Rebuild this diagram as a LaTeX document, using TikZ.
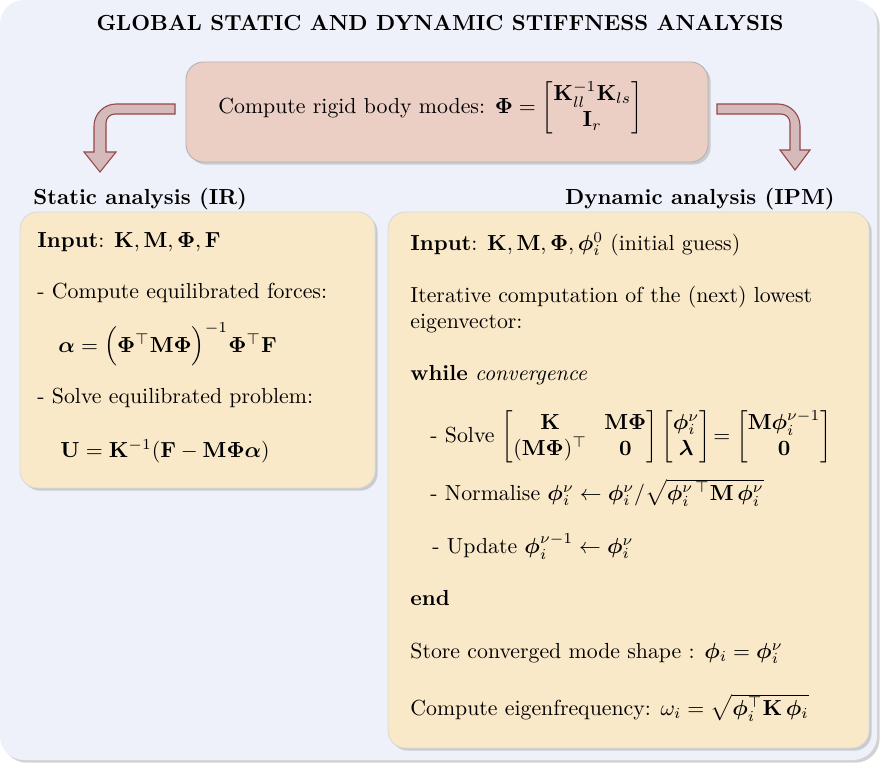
\documentclass[tikz,border=0pt]{standalone}
\usepackage{amsmath,bm}
\usetikzlibrary{shadows,fit}
\definecolor{bgcol}{RGB}{238,241,250}
\definecolor{topcol}{RGB}{235,206,196}
\definecolor{arrfill}{RGB}{212,186,186}
\definecolor{arrdraw}{RGB}{150,72,72}
\definecolor{boxcol}{RGB}{250,233,201}
\tikzset{
  bgbox/.style={fill=bgcol, rounded corners=11pt, drop shadow={shadow xshift=1.2pt, shadow yshift=-1.2pt, fill=gray!70}},
  topbox/.style={fill=topcol, draw=gray!60, rounded corners=8pt, inner sep=0pt, drop shadow={shadow xshift=1.2pt, shadow yshift=-1.2pt, fill=gray!70}},
  ybox/.style={fill=boxcol, draw=gray!30, rounded corners=8pt, inner sep=0pt, drop shadow={shadow xshift=1.2pt, shadow yshift=-1.2pt, fill=gray!70}},
  bend arrow/.style={fill=arrfill, draw=arrdraw, line width=0.5pt, line join=miter},
  txt/.style={anchor=base west, inner sep=0pt},
}
\begin{document}
\begin{tikzpicture}[x=0.4587pt, y=-0.4587pt]
\useasboundingbox (0,0) rectangle (881,765);
\path[bgbox] (0,0) rectangle (877,760);
% title
\node[anchor=base, inner sep=0pt] (title) at (440,30) {\bfseries GLOBAL STATIC AND DYNAMIC STIFFNESS ANALYSIS};
% top box
\node[topbox, fit={(186,62)(708,162)}] (top) {};
\node[anchor=west, inner sep=0pt] (toptext) at (218,108) {Compute rigid body modes: $\bm{\Phi} = \begin{bmatrix}\mathbf{K}_{ll}^{-1}\mathbf{K}_{ls}\\ \mathbf{I}_r\end{bmatrix}$};
% bent arrows
\coordinate (la) at (175,104);
\coordinate (ra) at (717,104);
\draw[bend arrow] (la) -- (116,104) .. controls (104,104) and (94,114) .. (94,126) -- (94,152) -- (84,152) -- (100,172) -- (116,152) -- (106,152) -- (106,123) .. controls (106,118) and (110,114) .. (115,114) -- (175,114) -- cycle;
\draw[bend arrow] (ra) -- (778,104) .. controls (790,104) and (800,114) .. (800,126) -- (800,150) -- (810,150) -- (795,170) -- (780,150) -- (790,150) -- (790,123) .. controls (790,118) and (786,114) .. (781,114) -- (717,114) -- cycle;
% section labels
\node[txt] (stat) at (33,204) {\bfseries Static analysis (IR)};
\node[anchor=base east, inner sep=0pt] (dyn) at (835,204) {\bfseries Dynamic analysis (IPM)};
% boxes
\node[ybox, fit={(20,212)(375,488)}] (lbox) {};
\node[ybox, fit={(388,212)(869,748)}] (rbox) {};
% left box content
\node[txt] (l1) at (37,247) {\textbf{Input}: $\mathbf{K},\mathbf{M},\bm{\Phi},\mathbf{F}$};
\node[txt] (l2) at (37,298) {- Compute equilibrated forces:};
\node[txt] (l3) at (58,352) {$\bm{\alpha} = \Bigl(\bm{\Phi}^{\top}\mathbf{M}\bm{\Phi}\Bigr)^{-1}\bm{\Phi}^{\top}\mathbf{F}$};
\node[txt] (l4) at (37,403) {- Solve equilibrated problem:};
\node[txt] (l5) at (60,457) {$\mathbf{U} = \mathbf{K}^{-1}(\mathbf{F}-\mathbf{M}\bm{\Phi}\bm{\alpha})$};
% right box content
\node[txt] (r1) at (410,250) {\textbf{Input}: $\mathbf{K},\mathbf{M},\bm{\Phi},\bm{\phi}_i^0$ (initial guess)};
\node[txt] (r2) at (410,302) {Iterative computation of the (next) lowest};
\node[txt] (r3) at (410,328) {eigenvector:};
\node[txt] (r4) at (410,380) {\textbf{while} \textit{convergence}};
\node[anchor=west, inner sep=0pt] (r5) at (430,437) {\setlength{\arraycolsep}{4pt}- Solve $\begin{bmatrix}\mathbf{K} & \mathbf{M}\bm{\Phi}\\ (\mathbf{M}\bm{\Phi})^{\top} & \mathbf{0}\end{bmatrix}\begin{bmatrix}\bm{\phi}_i^{\nu}\\ \bm{\lambda}\end{bmatrix} \!= \begin{bmatrix}\mathbf{M}\bm{\phi}_i^{\nu-1}\\ \mathbf{0}\end{bmatrix}$};
\node[txt] (r6) at (430,500) {- Normalise $\bm{\phi}_i^{\nu} \leftarrow \bm{\phi}_i^{\nu}/\sqrt{\bm{\phi}_i^{\nu\,\top}\mathbf{M}\,\bm{\phi}_i^{\nu}}$};
\node[txt] (r7) at (432,553) {- Update $\bm{\phi}_i^{\nu-1} \leftarrow \bm{\phi}_i^{\nu}$};
\node[txt] (r8) at (410,605) {\textbf{end}};
\node[txt] (r9) at (410,658) {Store converged mode shape : $\bm{\phi}_i = \bm{\phi}_i^{\nu}$};
\node[txt] (r10) at (410,715) {Compute eigenfrequency: $\omega_i = \sqrt{\bm{\phi}_i^{\top}\mathbf{K}\,\bm{\phi}_i}$};
\end{tikzpicture}
\end{document}
